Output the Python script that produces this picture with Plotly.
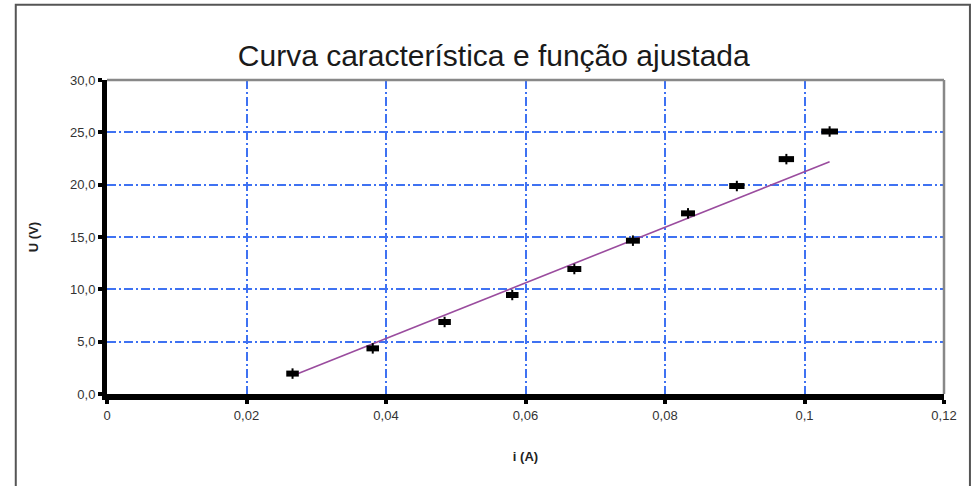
import plotly.graph_objects as go

# Measured current (A) and voltage (V)
corrente = [0.0266, 0.0381, 0.0484, 0.0581, 0.0670, 0.0754, 0.0833, 0.0903, 0.0974, 0.1036]
tensao = [1.95, 4.36, 6.88, 9.46, 11.94, 14.65, 17.26, 19.87, 22.44, 25.08]
# Measurement uncertainties
incerteza_i = [0.0009, 0.0009, 0.0009, 0.0009, 0.0010, 0.0010, 0.0010, 0.0011, 0.0011, 0.0012]
incerteza_u = [0.5] * 10

# Fitted function, evaluated at the ends of the measured range
ajuste_i = [0.0266, 0.1036]
ajuste_u = [1.75, 22.2]

x_ticks = [0, 0.02, 0.04, 0.06, 0.08, 0.1, 0.12]
x_tick_text = ["0", "0,02", "0,04", "0,06", "0,08", "0,1", "0,12"]
y_ticks = [0, 5, 10, 15, 20, 25, 30]

fig = go.Figure()

fig.add_trace(go.Scatter(
    x=ajuste_i, y=ajuste_u, mode="lines",
    line=dict(color="#9a4c9e", width=1.6),
    hoverinfo="skip", showlegend=False,
))

fig.add_trace(go.Scatter(
    x=corrente, y=tensao, mode="markers",
    marker=dict(size=1, color="black"),
    error_x=dict(type="data", array=incerteza_i, color="black", thickness=6, width=0),
    error_y=dict(type="data", array=incerteza_u, color="black", thickness=2, width=0),
    showlegend=False,
))

grid = dict(showgrid=True, gridcolor="#3f72f2", gridwidth=1.5, griddash="9px,3px,2px,3px")
tick_font = dict(family="Liberation Sans, Arial", size=13, color="#333")
label_font = dict(family="Liberation Sans, Arial", size=13, color="#222")

fig.update_xaxes(
    range=[0, 0.12], tickvals=x_ticks, ticktext=x_tick_text,
    showline=True, linecolor="black", linewidth=6,
    ticks="outside", ticklen=4, tickwidth=4, tickcolor="black",
    tickfont=tick_font,
    title=dict(text="<b>i (A)</b>", font=label_font, standoff=32),
    zeroline=False, **grid,
)
fig.update_yaxes(
    range=[0, 30], tickvals=y_ticks, tickformat=".1f",
    showline=True, linecolor="black", linewidth=5,
    ticks="outside", ticklen=4, tickwidth=4, tickcolor="black",
    tickfont=tick_font,
    title=dict(text="<b>U (V)</b>", font=label_font, standoff=30),
    zeroline=False, **grid,
)

# Light border on the top and right of the plot area
fig.add_shape(type="line", xref="paper", yref="paper", x0=0, x1=1, y0=1, y1=1,
              line=dict(color="#888", width=2.5))
fig.add_shape(type="line", xref="paper", yref="paper", x0=1, x1=1, y0=0, y1=1,
              line=dict(color="#888", width=2.5))

# Outer chart frame
fig.add_shape(type="rect", xref="paper", yref="paper",
              x0=-0.109, x1=1.031, y0=-0.35, y1=1.24,
              line=dict(color="#555", width=2), layer="below")

fig.update_layout(
    width=972, height=486,
    margin=dict(l=107, r=28, t=80, b=92),
    paper_bgcolor="white", plot_bgcolor="white",
    separators=",.",
    title=dict(text="Curva característica e função ajustada",
               x=0.508, xanchor="center", y=0.885, yanchor="middle",
               font=dict(family="Liberation Sans, Arial", size=30, color="#1a1a1a")),
)

fig.write_html("out.html")
